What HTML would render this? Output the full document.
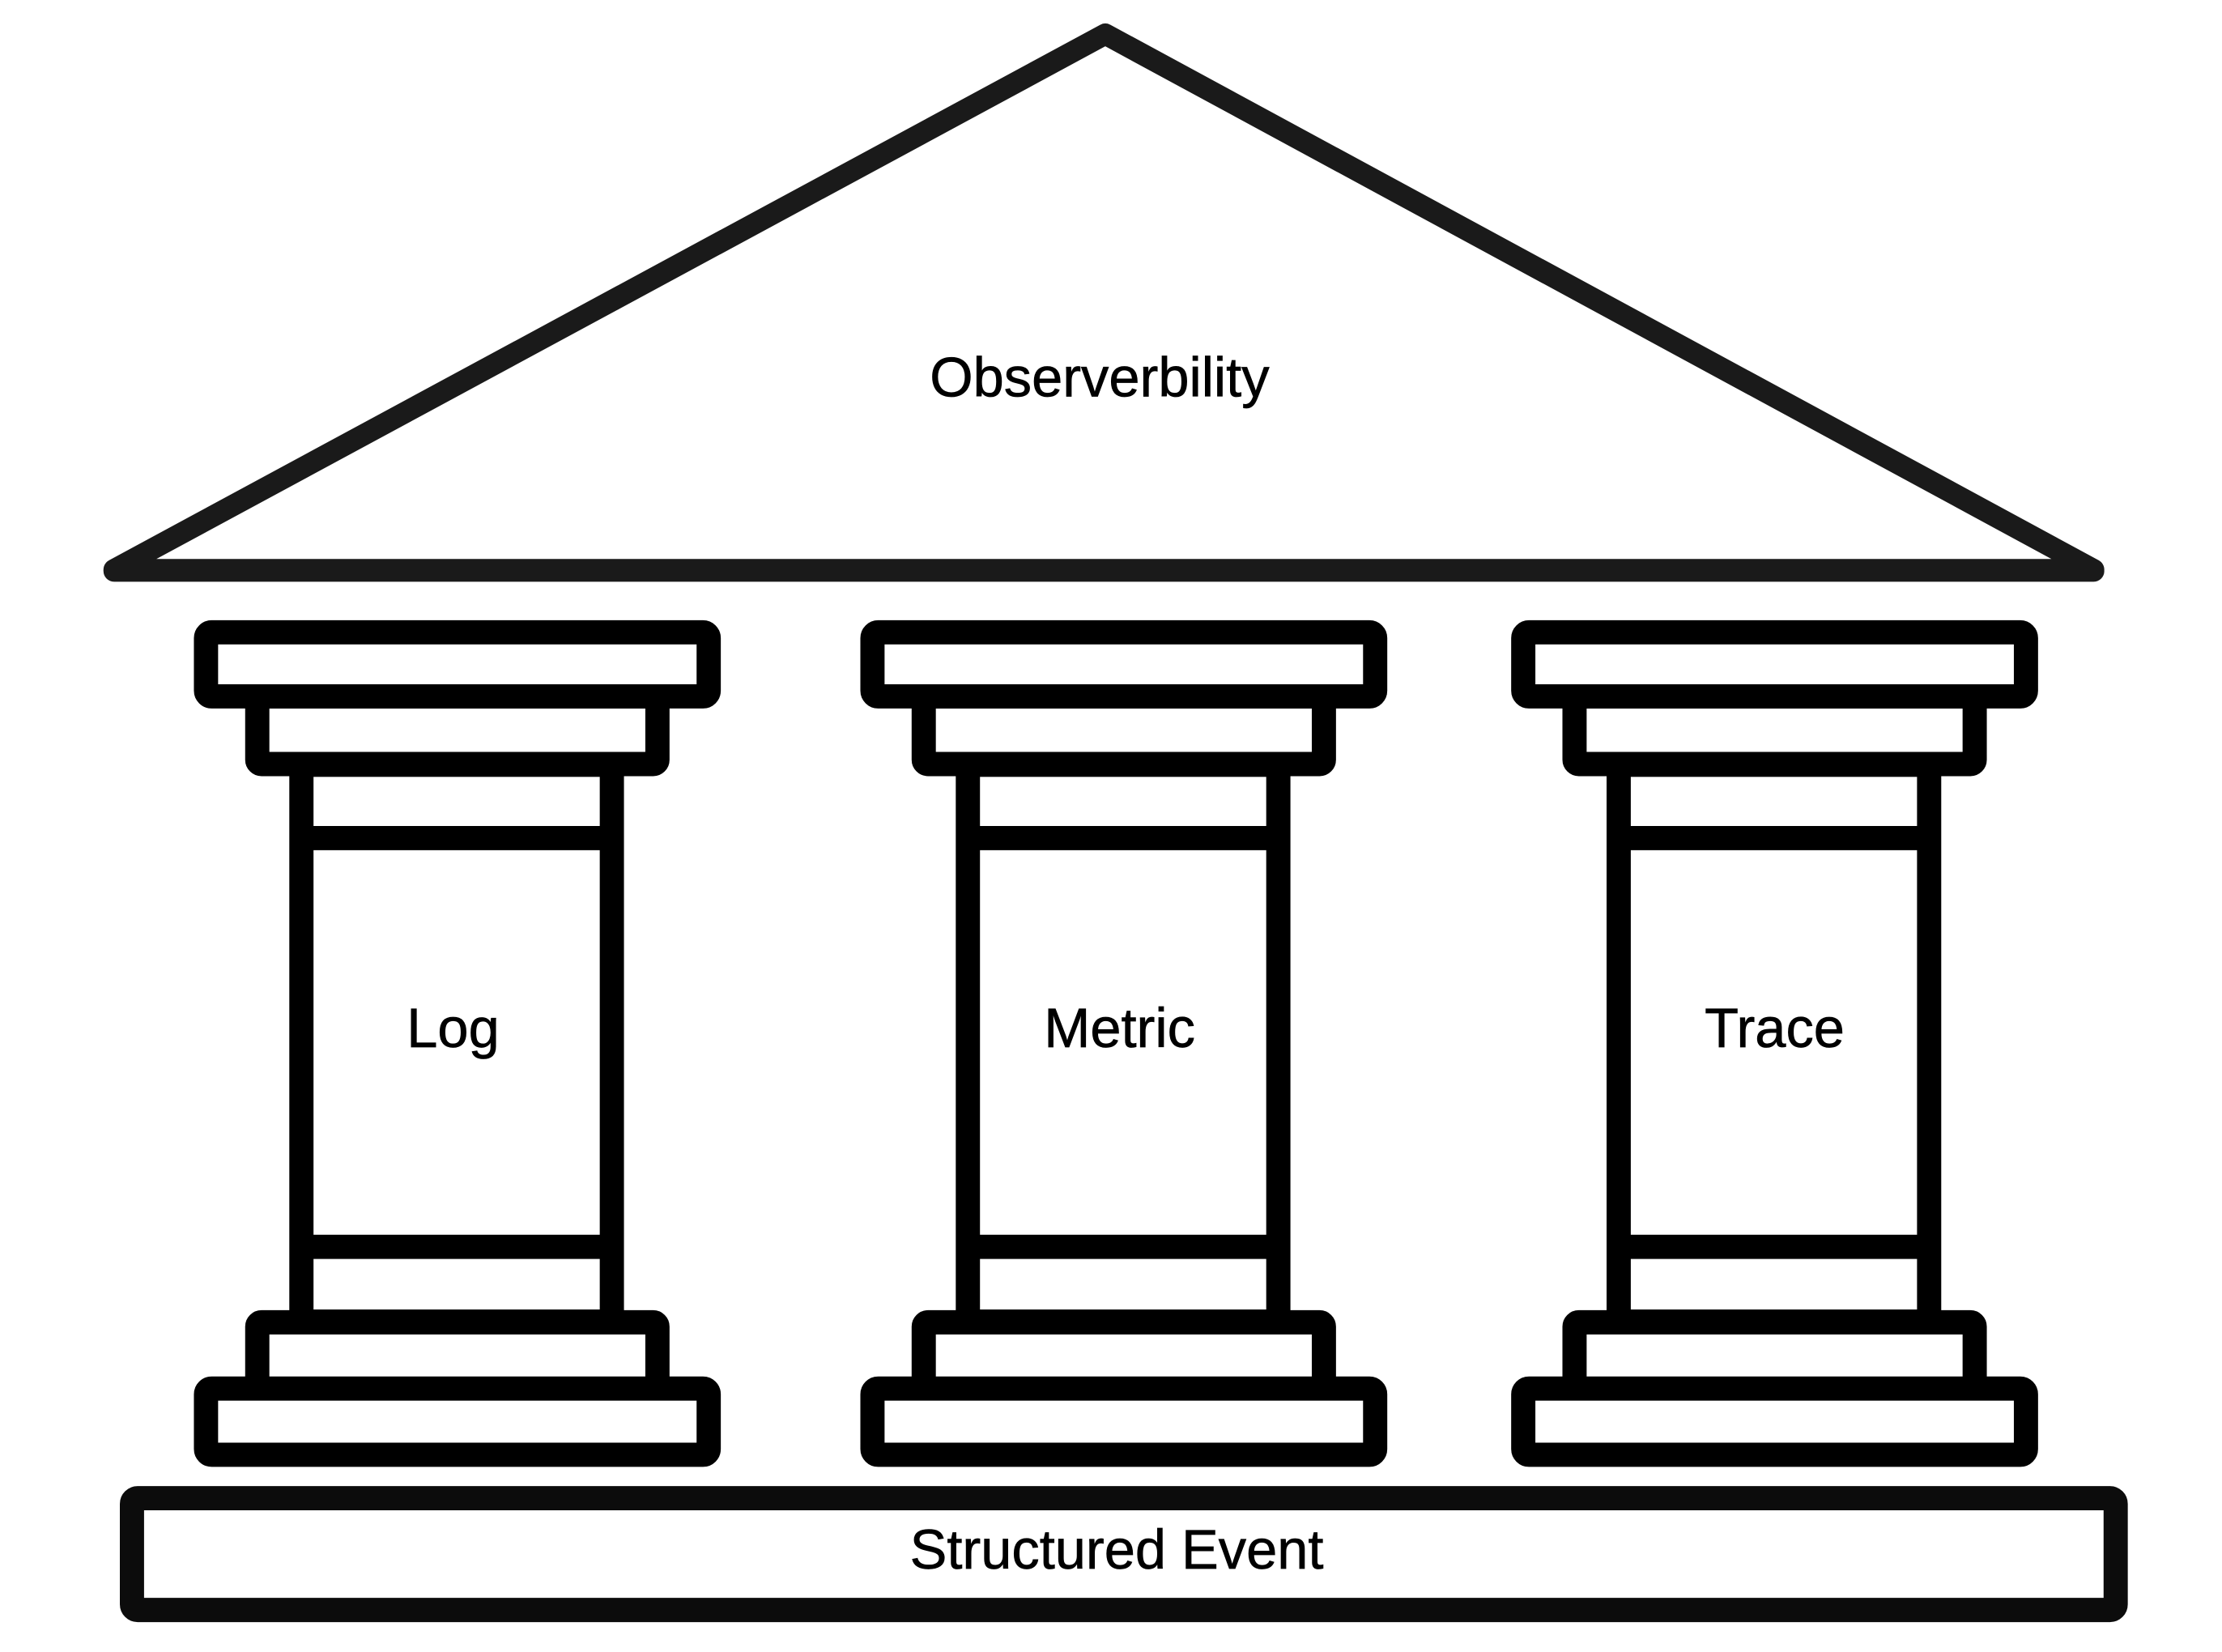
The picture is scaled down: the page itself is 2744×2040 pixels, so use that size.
<!DOCTYPE html>
<html><head><meta charset="utf-8"><style>
html,body{margin:0;padding:0;background:#fff;}
svg{display:block;}
text{font-family:"Liberation Sans",sans-serif;font-size:39px;fill:#000;text-anchor:middle;dominant-baseline:central;stroke:#000;stroke-width:0.4px;}
</style></head><body>
<svg width="2744" height="2040" viewBox="0 0 1560 1160" xmlns="http://www.w3.org/2000/svg">
<rect width="1560" height="1160" fill="#fff"/>
<polygon points="776,24 80,400 1470,400" fill="#fff" stroke="#1a1a1a" stroke-width="15" stroke-linejoin="round"/>
<line x1="80" y1="401" x2="1470" y2="401" stroke="#1a1a1a" stroke-width="15" stroke-linecap="round"/>
<text x="772" y="265">Observerbility</text>
<defs>
<g id="p" fill="#fff" stroke="#000" stroke-width="17">
<rect x="180.5" y="489" width="281" height="47.5" rx="3"/>
<rect x="144.5" y="444" width="353" height="45" rx="4"/>
<rect x="211.5" y="537" width="218" height="391" fill="#fff"/>
<line x1="211" y1="588.5" x2="430" y2="588.5"/>
<line x1="211" y1="875.5" x2="430" y2="875.5"/>
<rect x="180.5" y="928.5" width="281" height="47" rx="3"/>
<rect x="144.5" y="975" width="353" height="46.5" rx="4"/>
</g>
</defs>
<use href="#p"/>
<use href="#p" x="468"/>
<use href="#p" x="925"/>
<text x="318" y="722">Log</text>
<text x="786" y="722">Metric</text>
<text x="1246" y="722">Trace</text>
<rect x="92.5" y="1052" width="1393" height="78.5" rx="4" fill="#fff" stroke="#0c0c0c" stroke-width="17"/>
<text x="784" y="1088">Structured Event</text>
</svg>
</body></html>
